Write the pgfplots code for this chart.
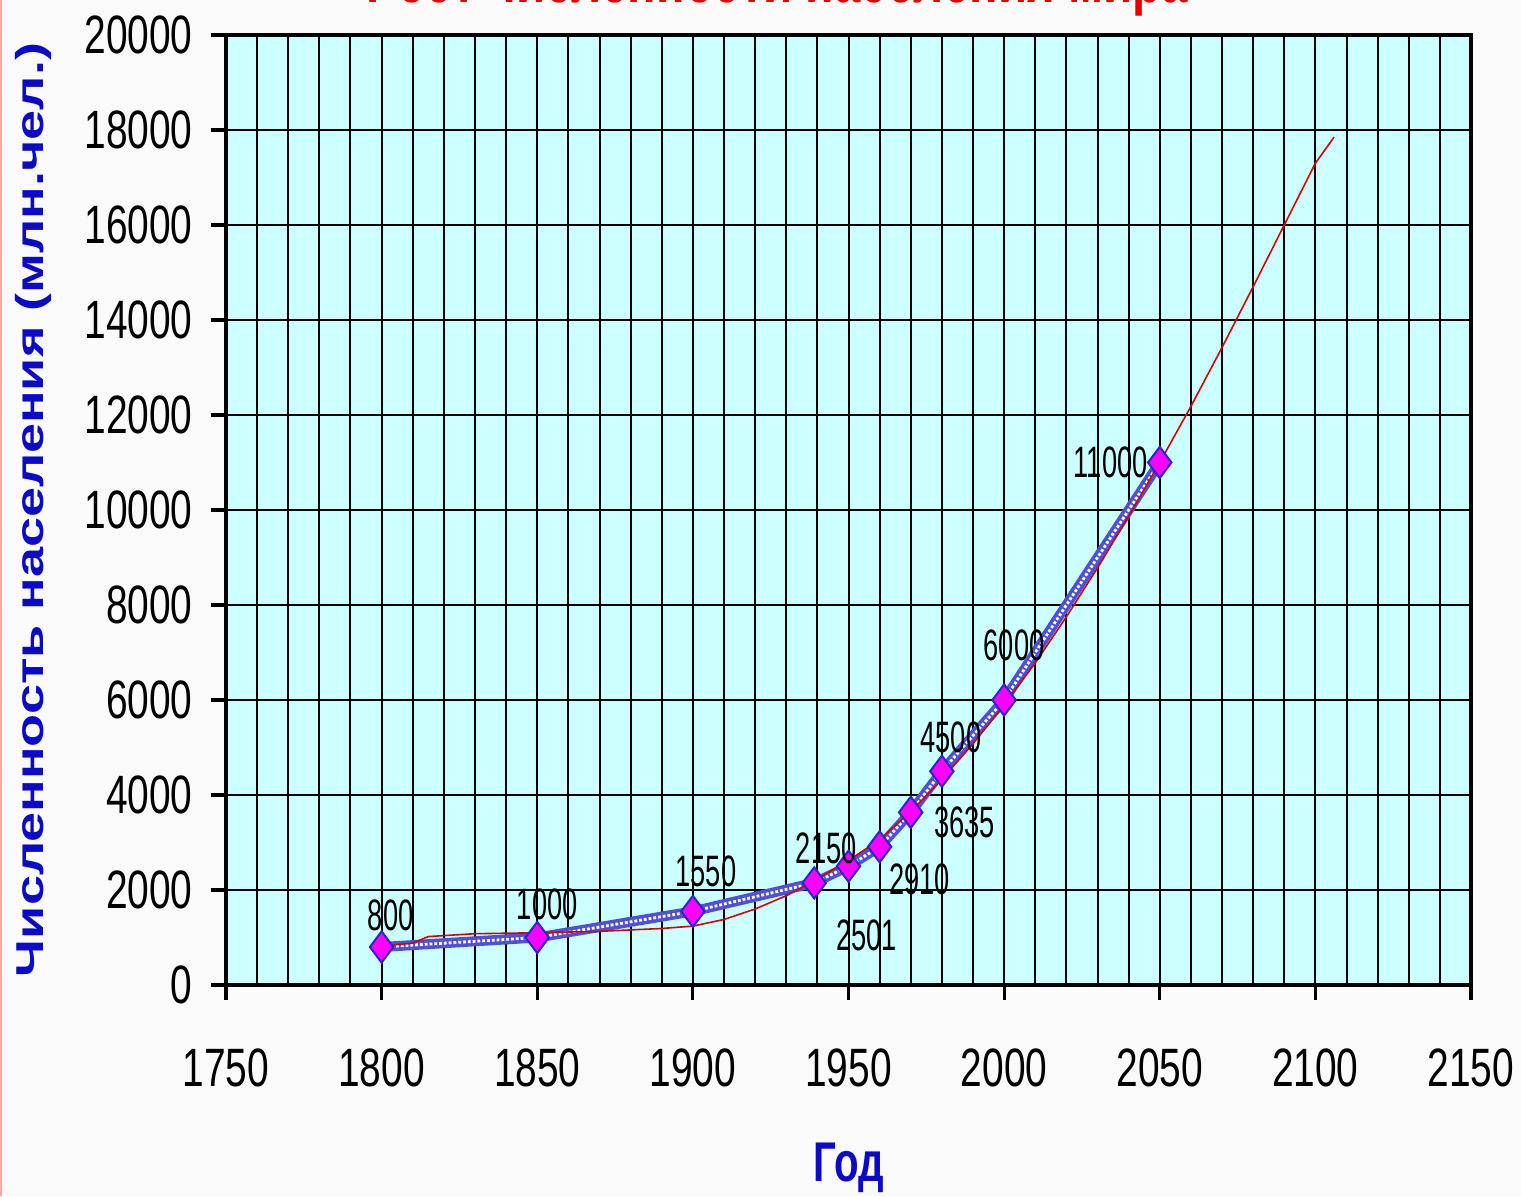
\documentclass[border=0pt]{standalone}
\usepackage{pgfplots}
\pgfplotsset{compat=1.18}
\usepackage{pgfplotstable}
\usepackage{fontspec}
\setmainfont{Liberation Sans}
\usepackage{graphicx}

\definecolor{plotbg}{RGB}{204,255,255}
\definecolor{pagebg}{RGB}{250,250,250}
\definecolor{lblblue}{RGB}{10,10,200}
\definecolor{titlered}{RGB}{230,0,0}
\definecolor{bandblue}{RGB}{80,80,215}
\definecolor{mkfill}{RGB}{255,0,255}
\definecolor{mkdraw}{RGB}{40,40,200}
\definecolor{trendred}{RGB}{215,0,0}

% narrow-looking text, the original is squeezed sideways
\newcommand\tl[1]{\scalebox{0.72}[1]{#1}}
\newcommand\dl[1]{\scalebox{0.62}[1]{#1}}

\pgfplotstableread{
x y
1800 800
1850 1000
1900 1550
1939 2150
1950 2501
1960 2910
1970 3635
1980 4500
2000 6000
2050 11000
}\popdata

% trend line
\pgfplotstableread{
x y
1800 820
1810 880
1815 1020
1830 1080
1850 1100
1870 1130
1890 1190
1900 1240
1910 1380
1920 1600
1930 1880
1940 2230
1950 2620
1960 3060
1970 3650
1980 4330
1990 5080
2000 5900
2010 6780
2020 7750
2030 8780
2040 9870
2050 11000
2060 12180
2070 13420
2080 14700
2090 16000
2100 17300
2106 17850
}\trenddata

\pgfplotstableread{
x y lbl dx dy
1800 800 800 4.5 16
1850 1000 1000 5 16.5
1900 1550 1550 6.5 20
1939 2150 2150 6 17.5
1950 2501 2501 9 -34.5
1960 2910 2910 20 -16.5
1970 3635 3635 27 -5
1980 4500 4500 4.5 17
2000 6000 6000 5 27.5
2050 11000 11000 -24.5 0
}\labeldata

\begin{document}
\begin{tikzpicture}
\path[use as bounding box, fill=pagebg] (-113pt,-105.5pt) rectangle (647.5pt,492.5pt);
\draw[red!35, line width=1pt] (-112.5pt,-105.5pt) -- (-112.5pt,492.5pt);
\begin{axis}[
  at={(0,0)}, anchor=south west,
  width=622.5pt, height=475pt, scale only axis,
  xmin=1750, xmax=2150, ymin=0, ymax=20000,
  scaled y ticks=false, scaled x ticks=false,
  axis background/.style={fill=plotbg},
  xtick={1750,1800,...,2150},
  xticklabels={\tl{1750},\tl{1800},\tl{1850},\tl{1900},\tl{1950},\tl{2000},\tl{2050},\tl{2100},\tl{2150}},
  minor x tick num=4,
  ytick={0,2000,...,20000},
  yticklabels={\tl{0},\tl{2000},\tl{4000},\tl{6000},\tl{8000},\tl{10000},\tl{12000},\tl{14000},\tl{16000},\tl{18000},\tl{20000}},
  xmajorgrids, xminorgrids, ymajorgrids,
  major grid style={black, line width=1pt},
  minor grid style={black, line width=1pt},
  tick align=outside,
  xtick pos=bottom, ytick pos=left,
  major tick length=7.5pt, minor tick length=0pt,
  tick style={black, line width=1.6pt},
  axis line style={black, line width=1.6pt},
  tick label style={font=\fontsize{27}{30}\selectfont},
  yticklabel style={anchor=east, inner sep=0pt, xshift=-9pt},
  xticklabel style={anchor=north, inner sep=0pt, yshift=-24pt},
  title={\tl{Рост численности населения мира}},
  title style={at={(axis description cs:0.443,1.0221)}, anchor=base,
    font=\fontsize{33}{36}\selectfont\bfseries, text=titlered},
  xlabel={\tl{Год}},
  xlabel style={at={(axis description cs:0.5,-0.1926)}, anchor=center,
    font=\fontsize{28}{30}\selectfont\bfseries, text=lblblue},
  ylabel={\scalebox{1}[0.72]{Численность населения (млн.чел.)}},
  ylabel style={at={(axis description cs:-0.155,0.5)}, anchor=center,
    font=\fontsize{27}{30}\selectfont\bfseries, text=lblblue},
]
\addplot[bandblue, line width=5pt, line join=round] table[x=x,y=y] {\popdata};
\addplot[white, line width=1.4pt, densely dotted] table[x=x,y=y] {\popdata};
\addplot[only marks, mark=diamond*, mark size=7.8pt,
  mark options={fill=mkfill, draw=mkdraw, line width=1pt}] table[x=x,y=y] {\popdata};
\addplot[trendred, line width=0.8pt] table[x=x,y=y] {\trenddata};
\addplot[draw=none, mark=none, nodes near coords={\dl{\pgfplotspointmeta}},
  point meta=explicit symbolic,
  visualization depends on={\thisrow{dx}\as\dx},
  visualization depends on={\thisrow{dy}\as\dy},
  nodes near coords style={anchor=center, inner sep=0pt, xshift=\dx pt, yshift=\dy pt,
    font=\fontsize{22}{24}\selectfont, text=black}]
  table[x=x,y=y,meta=lbl] {\labeldata};
\end{axis}
\end{tikzpicture}
\end{document}
